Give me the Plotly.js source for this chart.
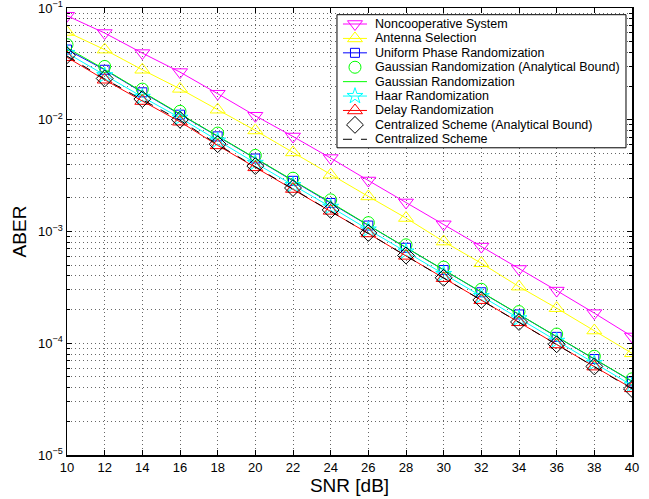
<!DOCTYPE html>
<html><head><meta charset="utf-8">
<script src="https://cdn.plot.ly/plotly-3.0.1.min.js"></script>
<style>html,body{margin:0;padding:0;background:#fff}#chart{width:649px;height:499px}</style>
</head><body><div id="chart"></div>
<script>
const snr = [10,12,14,16,18,20,22,24,26,28,30,32,34,36,38,40];
const nonCoop   = [0.0853,0.0597,0.0395,0.0267,0.0171,0.01086,0.00708,0.00454,0.00286,0.00182,0.00116,0.000733,0.000462,0.000296,0.000186,0.000115];
const antSel    = [0.0610,0.0424,0.0280,0.0189,0.0123,0.00802,0.0051,0.00322,0.00206,0.00132,0.000813,0.00052,0.000321,0.000206,0.000130,0.0000813];
const uniform   = [0.0425,0.0280,0.0176,0.0111,0.0071,0.00450,0.00284,0.00180,0.00113,0.000715,0.000452,0.000286,0.000181,0.000114,0.0000722,0.0000456];
const gaussBnd  = [0.0470,0.0300,0.0188,0.0119,0.0076,0.0048,0.0030,0.00192,0.00120,0.00076,0.00048,0.000304,0.000192,0.000121,0.0000765,0.0000480];
const gaussSim  = [0.0440,0.0283,0.0178,0.0113,0.0072,0.00455,0.00287,0.00182,0.00114,0.00072,0.000456,0.000288,0.000182,0.000115,0.0000725,0.0000458];
const haar      = [0.0395,0.0250,0.0160,0.0104,0.0065,0.0041,0.0026,0.00166,0.00104,0.00066,0.000416,0.000264,0.000167,0.000105,0.0000665,0.0000420];
const delay     = [0.0362,0.0228,0.0147,0.0096,0.0059,0.00375,0.0024,0.00153,0.00096,0.000605,0.000382,0.000243,0.000154,0.0000975,0.0000618,0.0000395];
const centBnd   = [0.0378,0.0234,0.0153,0.0100,0.00605,0.00385,0.00245,0.00156,0.00097,0.00061,0.000385,0.000244,0.000155,0.000098,0.000062,0.000039];
const centSim   = [0.0372,0.0232,0.0151,0.0099,0.0060,0.0038,0.00243,0.00154,0.00096,0.000605,0.000382,0.000242,0.000154,0.0000975,0.0000617,0.0000390];
const seriesNames = ['Noncooperative System','Antenna Selection','Uniform Phase Randomization',
  'Gaussian Randomization (Analytical Bound)','Gaussian Randomization','Haar Randomization',
  'Delay Randomization','Centralized Scheme (Analytical Bound)','Centralized Scheme'];
const xTicks = [10,12,14,16,18,20,22,24,26,28,30,32,34,36,38,40];
const yTickVals = [1e-5,1e-4,1e-3,1e-2,1e-1];
const yTickText = ['10<sup>−5</sup>','10<sup>−4</sup>','10<sup>−3</sup>','10<sup>−2</sup>','10<sup>−1</sup>'];

const minorVals = [];
for (let e = -5; e < -1; e++) for (let k = 2; k <= 9; k++) minorVals.push(k * Math.pow(10, e));

const styles = [
  {y: nonCoop,  color: '#ff00ff', mode: 'lines+markers', symbol: 'triangle-down-open', size: 13},
  {y: antSel,   color: '#ffff00', mode: 'lines+markers', symbol: 'triangle-up-open', size: 13},
  {y: uniform,  color: '#0000ff', mode: 'lines+markers', symbol: 'square-open', size: 9},
  {y: gaussBnd, color: '#00ff00', mode: 'markers', symbol: 'circle-open', size: 12},
  {y: gaussSim, color: '#00ff00', mode: 'lines', symbol: 'circle-open', size: 12},
  {y: haar,     color: '#00ffff', mode: 'lines+markers', symbol: 'star-open', size: 12},
  {y: delay,    color: '#ff0000', mode: 'lines+markers', symbol: 'triangle-up-open', size: 13},
  {y: centBnd,  color: '#000000', mode: 'markers', symbol: 'diamond-open', size: 13},
  {y: centSim,  color: '#000000', mode: 'lines', symbol: 'diamond-open', size: 12, dash: 'dash'}
];

const data = [];
styles.forEach((s, i) => {
  data.push({x: snr, y: s.y, name: seriesNames[i], mode: s.mode, type: 'scatter', showlegend: false,
    line: {color: s.color, width: 1, dash: s.dash || 'solid'},
    marker: {symbol: s.symbol, size: s.size, color: s.color, line: {color: s.color, width: 1}}});
});

// Legend box drawn in an overlay subplot whose units are pixels inside the box
const boxW = 289, boxH = 133, rowY0 = 9.3, rowStep = 14.4, symL = 6, symR = 30, textX = 36;
data.push({x: [0, boxW, boxW, 0, 0], y: [0, 0, boxH, boxH, 0], xaxis: 'x2', yaxis: 'y2', mode: 'lines',
  fill: 'toself', fillcolor: '#ffffff', line: {color: '#000', width: 1}, showlegend: false, hoverinfo: 'skip'});
const annotations = [];
styles.forEach((s, i) => {
  const ry = rowY0 + rowStep * i;
  if (s.mode.indexOf('lines') >= 0) {
    data.push({x: [symL, symR], y: [ry, ry], xaxis: 'x2', yaxis: 'y2', mode: 'lines', showlegend: false,
      line: {color: s.color, width: 1, dash: s.dash || 'solid'}, hoverinfo: 'skip'});
  }
  if (s.mode.indexOf('markers') >= 0) {
    data.push({x: [(symL + symR) / 2], y: [ry], xaxis: 'x2', yaxis: 'y2', mode: 'markers', showlegend: false,
      marker: {symbol: s.symbol, size: s.size, color: s.color, line: {color: s.color, width: 1}}, hoverinfo: 'skip'});
  }
  annotations.push({xref: 'x2', yref: 'y2', x: textX, y: ry, text: seriesNames[i], showarrow: false,
    xanchor: 'left', yanchor: 'middle', font: {size: 12.5, color: '#000', family: 'Liberation Sans, Arial, sans-serif'}});
});

const gridC = 'rgba(0,0,0,0.6)';
const layout = {
  width: 649, height: 499,
  margin: {l: 67, r: 17, t: 8, b: 44, pad: 0},
  paper_bgcolor: '#fff', plot_bgcolor: 'rgba(0,0,0,0)',
  font: {family: 'Liberation Sans, Arial, sans-serif', color: '#000', size: 13},
  showlegend: false,
  annotations: annotations,
  xaxis: {range: [10, 40], tickmode: 'array', tickvals: xTicks,
    showline: true, linecolor: '#000', linewidth: 1.5, mirror: 'ticks',
    ticks: 'inside', ticklen: 5, tickcolor: '#000',
    showgrid: true, gridcolor: gridC, griddash: '1px,3px', gridwidth: 1, zeroline: false,
    tickfont: {size: 13},
    title: {text: 'SNR [dB]', font: {size: 19}, standoff: 4}},
  yaxis: {type: 'log', range: [-5, -1], tickmode: 'array', tickvals: yTickVals, ticktext: yTickText,
    showline: true, linecolor: '#000', linewidth: 1.5, mirror: 'ticks',
    ticks: 'inside', ticklen: 5, tickcolor: '#000', ticklabeloverflow: 'allow',
    showgrid: true, gridcolor: gridC, griddash: '1px,3px', gridwidth: 1, zeroline: false,
    tickfont: {size: 13},
    minor: {tickmode: 'array', tickvals: minorVals, ticks: 'inside', ticklen: 3, tickcolor: '#000',
      showgrid: true, gridcolor: gridC, griddash: '1px,3px', gridwidth: 1},
    title: {text: 'ABER', font: {size: 19}, standoff: 6}},
  xaxis2: {domain: [0.4743, 0.9929], range: [-2, 291], anchor: 'y2', visible: false, fixedrange: true},
  yaxis2: {domain: [0.68279, 0.98948], range: [135, -2], anchor: 'x2', visible: false, fixedrange: true}
};
Plotly.newPlot('chart', data, layout, {displayModeBar: false, staticPlot: true});
</script></body></html>
